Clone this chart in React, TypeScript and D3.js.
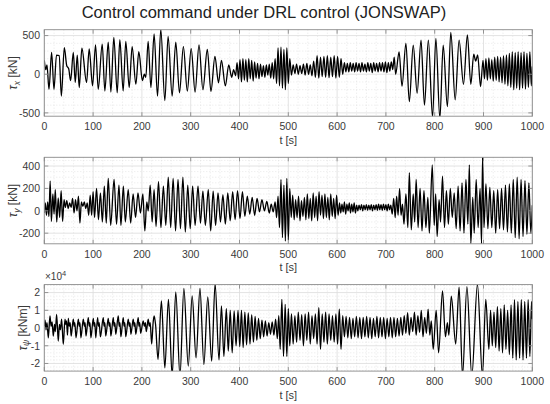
import React from 'react';
import * as d3 from 'd3';

// ---------- data ----------
const timeTicks = [0, 100, 200, 300, 400, 500, 600, 700, 800, 900, 1000];
const tauXTicks = [-500, 0, 500];
const tauYTicks = [-200, 0, 200, 400];
const tauPsiTicks = [-2, -1, 0, 1, 2];

// surge force tau_x [kN] : [t (s), value] at local extrema
const tauX: [number, number][] = [
  [0,180],[3,60],[5.5,120],[9.6,-195],[15,283],[19.8,-195],[25,248],[30.5,240],[35,-283],[41,345],[46,110],[50,70],[54,-84],[59.4,283],[63.5,-106],[67.5,248],[71.6,-172],[77,336],[86.6,-106],[92,327],[98.9,-150],[105,380],[110.5,-195],[118.7,390],[124.1,-217],[131,416],[136.4,-230],[142.5,478],[149.4,-240],[154.8,447],[161.6,-217],[167,425],[174,-172],[180,358],[187.6,-128],[193.7,292],[201,-84],[205,0],[208,-40],[212.8,425],[218.5,-172],[225,522],[232,-283],[238.7,580],[247,-340],[253.7,490],[262,-283],[269.4,416],[277,-240],[285,358],[293,-217],[301,330],[309,-230],[317,380],[325,-200],[334,320],[341.5,-220],[349.7,230],[357,-110],[363,180],[371,-150],[378,120],[384,-40],[388,60],[392,-20],
  [395,150],[398,-60],[401,190],[404,-100],[407,200],[410,-80],[413,190],[416,-100],[419,200],[422,-60],[425,180],[428,-90],[431,160],[434,-50],[437,140],[440,-60],[443,130],[446,-30],[449,110],[452,-40],[455,120],[458,-10],[461,130],[464,-50],[467,150],[470,-60],[473,200],[476,-120],[479,340],[482,-150],[485,350],[488,-180],[491,320],[494,-200],[497,340],[500,-120],[503,200],
  [506.5,-10],[510,120],[513.5,10],[517,130],[520.5,0],[524,110],[527.5,10],[531,130],[534.5,-10],[538,140],[541.5,0],[545,120],[548.5,-20],[552,170],[555.5,-40],[559,240],[562.5,-50],[566,220],[569.5,-30],[573,230],[576.5,-40],[580,240],[583.5,-45],[587,220],[590.5,-30],[594,240],[597.5,-50],[601,230],[604.5,-40],[608,200],[611.5,0],
  [615,150],[618,30],[621,140],[624,30],[627,150],[630,40],[633,140],[636,30],[639,150],[642,40],[645,140],[648,30],[651,150],[654,40],[657,130],[660,30],[663,150],[666,40],[669,140],[672,20],[675,150],[678,40],[681,140],[684,30],[687,150],[690,40],[693,150],[696,30],[699,160],[702,20],[705,150],[708,40],[711,160],[714,60],[717,220],[720,0],
  [727,290],[733,-155],[741,400],[748,-355],[756,375],[764,-245],[772,440],[779,-400],[787,440],[795.6,-555],[802.4,465],[810.6,-575],[817.4,375],[826,-420],[833,540],[842,-330],[850,440],[859,-130],[867,510],[874,-130],[880,260],[884,170],[888,250],[894,-160],[899,180],
  [902,-60],[905,200],[908,-80],[911,210],[914,-60],[917,190],[920,-90],[923,220],[926,-80],[929,230],[932,-100],[935,220],[938,-110],[941,240],[944,-130],[947,250],[950,-150],[953,270],[956,-170],[959,290],[962,-200],[965,280],[968,-180],[971,290],[974,-200],[977,280],[980,-180],[983,290],[986,-190],[989,270],[992,-170],[995,290],[998,-150],[1000,100],
];

// sway force tau_y [kN]
const tauY: [number, number][] = [
  [0,-20],[2,70],[4.5,-40],[7,80],[9.5,-50],[12,265],[14.5,-95],[17.5,150],[20,-30],[22.5,190],[25.5,-100],[28.5,115],[31.5,-60],[34.5,180],[37.5,-95],[40.5,100],[43,30],[46,90],[49,20],[52,70],[55,30],[58,110],[61,-20],[64,100],[67,0],[70,130],[73,-110],[76,80],[79,40],[82,80],[85,20],[88,70],[91,-40],[94,140],[97,-40],[100,170],[103,-60],[107,200],[111,-80],[115,160],[119,-100],[123,220],[127,-110],[131,290],[136,-130],[143,280],[148,-120],[153,230],[157,-130],[162,220],[166,-100],[172,190],[177,-110],[182,150],[187,-60],[192,160],[197,-20],[202,150],[206,-180],[210,80],[213,0],[217,230],[221,-100],[225,190],[229,-140],[234,260],[239,-150],[244,220],[249,-130],[254,300],[259,-150],[264,290],[269,-180],[274,280],[279,-160],[284,300],[289,-190],[294,230],[299,-160],[304,220],[309,-130],[315,220],[320,-110],[325,175],[330,-130],[336,190],[341,-180],[346,175],[351,-130],[356,160],[361,-100],[366,145],[371,-120],[376,160],[381,-90],[386,170],[391,-80],[396,180],[401,-70],[406,170],[411,-50],[416,130],[421,-30],[426,120],[431,-40],[436,110],[441,-10],[446,100],[451,0],[456,85],[461,-20],[465,60],[469,-10],[473,80],[476,-60],[479,130],[482,-150],[485,280],[488,-240],[491,230],[494,-270],[497,290],[500,-260],[503,200],[506,-60],
  [509,140],[512,-80],[515,100],[518,-60],[521,130],[524,-90],[527,90],[530,-50],[533,120],[536,-80],[539,150],[542,-70],[545,110],[548,-90],[551,160],[554,-60],[557,130],[560,-90],[563,170],[566,-40],[569,140],[572,-70],[575,150],[578,-60],[581,120],[584,-80],[587,150],[590,-50],[593,110],[596,-70],[599,140],[602,-40],
  [605,70],[607.5,-20],[610,60],[612.5,-10],[615,80],[617.5,-30],[620,60],[622.5,0],[625,70],[627.5,-20],[630,60],[632.5,-10],[635,70],[637.5,-20],[640,50],[642.5,0],[645,50],[647.5,10],[650,55],[652.5,0],[655,50],[657.5,10],[660,55],[662.5,5],[665,50],[667.5,10],[670,55],[672.5,0],[675,50],[677.5,10],[680,55],[682.5,5],[685,60],[687.5,10],[690,55],[692.5,5],[695,60],[697.5,10],[700,55],[702.5,0],[705,60],[707.5,10],[710,50],
  [713,-30],[716,110],[719,-60],[722,130],[725,-40],[728,200],[731,-40],[734,60],[737,-120],[741,150],[745,-150],[748,340],[752,-170],[756,150],[759,-100],[762,280],[766,-150],[770,200],[774,-180],[778,180],[782,-150],[786,120],[789,-200],[795,410],[799,-130],[802,150],[805,-230],[809,100],[812,-100],[816,310],[820,-150],[824,180],[828,-120],[832,200],[836,-60],[840,160],[844,-160],[848,220],[852,-180],[856,250],[860,-200],[864,280],[868,-120],[871,410],[874,-295],[878,120],[881,-200],[885,280],[889,-150],[893,200],[896,-295],[898,480],[901,-150],
  [905,240],[909,-160],[913,210],[917,-150],[921,180],[925,-200],[929,190],[933,-160],[937,200],[941,-170],[945,230],[949,-190],[953,240],[957,-200],[961,280],[965,-240],[969,300],[973,-250],[977,280],[981,-230],[985,270],[989,-210],[993,250],[997,-200],[1000,50],
];

// yaw moment tau_psi [x10^4 kNm]
const tauPsi: [number, number][] = [
  [0,0.1],[1.5,0.45],[3.5,-0.1],[5.5,0.3],[8.2,-0.55],[11.6,0.68],[14,0.1],[16,0.35],[18.4,-0.45],[21,0.2],[22.5,-0.2],[25.3,0.77],[28.6,-0.74],[31,0.2],[33,-0.1],[35.5,0.5],[38.9,-0.92],[42.4,0.5],[44,0.2],[45.5,0.4],[47.5,-0.4],[49.2,0.55],[51,0.1],[53,0.3],[55,-0.45],[59.4,0.5],[61,0.1],[62.5,0.3],[65,-0.55],[69.7,0.5],[71.5,0.1],[73,0.3],[75,-0.55],[79.9,0.5],[82,0.1],[83.5,0.3],[85.5,-0.45],[90.1,0.58],[92,0.1],[93.5,0.3],[95.5,-0.55],[100.4,0.55],[102,0.1],[103.5,0.3],[105.5,-0.55],[109.2,0.58],[111,0.1],[112.5,0.3],[115,-0.5],[120.8,0.58],[122.5,0.1],[124,0.3],[126,-0.45],[131,0.55],[133,0.1],[134.5,0.3],[136.5,-0.45],[141.3,0.58],[143,0.1],[144.5,0.3],[146.5,-0.35],[151.5,0.68],[153.5,0.1],[155,0.3],[157,-0.5],[161.7,0.58],[163.5,0.1],[165,0.3],[167,-0.5],[172,0.5],[174,0.1],[175.5,0.3],[177.5,-0.35],[182.2,0.5],[184,0.1],[185.5,0.3],[187.5,-0.35],[192.4,0.58],[194,0.1],[195.5,0.3],[197.5,-0.3],[202.6,0.4],[205,0.1],[207,0.3],[209,-0.2],[212.9,0.5],[215,0.1],[217,0.3],[220,-0.9],[223,0.3],[225,0.68],[228,0.2],
  [233,-1.77],[240,1.53],[247,-2.25],[254.4,1.62],[262,-2.7],[269.4,2.04],[278,-2.7],[286,2.23],[295,-2.15],[303,1.81],[311,-1.68],[319,2.23],[327,-2.06],[335,1.75],[343,-1.87],[350,2.5],[358,-1.8],[363,1.25],[368,-1.6],[373,1.1],[377,-1.3],[381,1.0],[385,-1.4],[389,0.96],[393,-1.0],[397,1.0],
  [400.5,-1.05],[404,1.0],[407.5,-1.1],[411,0.9],[414.5,-0.95],[418,0.85],[421.5,-0.9],[425,0.75],[428.5,-0.8],[432,0.65],[435.5,-0.7],[439,0.55],[442.5,-0.6],[446,0.45],[449.5,-0.5],[453,0.4],[456.5,-0.45],[460,0.3],[463.5,-0.35],[467,0.35],[470.5,-0.4],[474,0.5],[477.5,-0.6],[480.5,0.7],[483.4,-1.2],[486.8,1.62],[490.2,-1.6],[493.6,1.34],[497,-1.6],[500,1.1],[503,-1.0],
  [506.5,0.8],[510,-0.9],[513.5,0.7],[517,-0.8],[520.5,0.9],[524,-0.7],[527.5,0.75],[531,-1.0],[534.5,0.8],[538,-0.7],[541.5,0.9],[545,-0.9],[548.5,0.7],[552,-0.6],[555.5,0.8],[559,-0.9],[562.5,1.15],[566,-1.2],[569.5,0.8],[573,-0.8],[576.5,0.9],[580,-0.9],[583.5,0.8],[587,-0.7],[590.5,0.7],[594,-0.8],[597.5,0.8],[601,-0.9],[604.5,1.06],[608,-1.2],[611.5,0.7],
  [615,-0.5],[618.5,0.65],[622,-0.55],[625.5,0.6],[629,-0.6],[632.5,0.55],[636,-0.5],[639.5,0.65],[643,-0.55],[646.5,0.6],[650,-0.6],[653.5,0.6],[657,-0.5],[660.5,0.65],[664,-0.55],[667.5,0.6],[671,-0.6],[674.5,0.55],[678,-0.5],[681.5,0.65],[685,-0.55],[688.5,0.6],[692,-0.5],[695.5,0.6],[699,-0.6],[702.5,0.55],[706,-0.5],[709.5,0.6],[713,-0.55],[716.5,0.6],[720,-0.5],[723.5,0.55],[727,-0.45],[730.5,0.6],[734,-0.4],[737.5,0.7],[741,-0.3],[744.5,0.87],[748,-0.4],[751.5,0.6],[755,-0.2],[758.5,0.9],[762,-0.4],[765.5,0.7],[769,-0.25],[772.5,1.0],[776,-0.5],[779.5,0.6],[783,-0.3],[786.5,1.06],[790,-0.4],[793,0.4],
  [797,-1.2],[803,1.0],[808,-1.4],[816,2.1],[822,-0.5],[826,0.3],[829,-0.4],[834,1.8],[843,-0.9],[850,2.3],[857,-2.7],[866,2.34],[876,-2.7],[887.6,2.47],[897.8,-2.7],[904.7,1.62],
  [911,-1.2],[914.5,1.0],[918,-1.0],[921.5,0.9],[925,-1.1],[928.5,1.2],[932,-1.3],[935.5,1.1],[939,-1.4],[942.5,1.3],[946,-1.2],[949.5,1.0],[953,-1.5],[956.5,1.3],[960,-1.7],[963.5,1.6],[967,-1.8],[970.5,1.5],[974,-1.7],[977.5,1.6],[981,-1.8],[984.5,1.5],[988,-1.7],[991.5,1.6],[995,-1.6],[998.5,1.5],[1000,0.5],
];

// ---------- layout ----------
const FONT = "'Liberation Sans', Arial, Helvetica, sans-serif";
const X0 = 44.3, X1 = 532.3;
const PH = 86.5;

type Panel = {
  data: [number, number][];
  top: number;
  domain: [number, number];
  ticks: number[];
  minor: number;
  sym: string;
  unit: string;
  labelX: number;
  exponent?: boolean;
};

const panels: Panel[] = [
  { data: tauX, top: 29.7, domain: [-543, 576], ticks: tauXTicks, minor: 100, sym: 'x', unit: ' [kN]', labelX: 13 },
  { data: tauY, top: 157.3, domain: [-295, 478], ticks: tauYTicks, minor: 50, sym: 'y', unit: ' [kN]', labelX: 13 },
  { data: tauPsi, top: 284.6, domain: [-2.43, 2.45], ticks: tauPsiTicks, minor: 0.2, sym: 'ψ', unit: ' [kNm]', labelX: 22.5, exponent: true },
];

const TEXT = '#3a3a3a';
const FRAME = '#8a8a8a';

function PanelView({ p, idx }: { p: Panel; idx: number }) {
  const x = d3.scaleLinear().domain([0, 1000]).range([X0, X1]);
  const bottom = p.top + PH;
  const y = d3.scaleLinear().domain(p.domain).range([bottom, p.top]);
  const line = d3
    .line<[number, number]>()
    .x((d) => x(d[0]))
    .y((d) => y(d[1]))
    .curve(d3.curveMonotoneX);
  const xMinor = d3.range(0, 1000.01, 20).filter((v) => v % 100 !== 0);
  const yMinor = d3
    .range(Math.ceil(p.domain[0] / p.minor) * p.minor, p.domain[1], p.minor)
    .filter((v) => !p.ticks.some((t) => Math.abs(t - v) < 1e-6));
  const clipId = `clip${idx}`;
  const tl = 4;
  return (
    <g>
      <defs>
        <clipPath id={clipId}>
          <rect x={X0} y={p.top} width={X1 - X0} height={PH} />
        </clipPath>
      </defs>
      <rect x={X0} y={p.top} width={X1 - X0} height={PH} fill="#fff" />
      {xMinor.map((v) => (
        <line key={'xm' + v} x1={x(v)} x2={x(v)} y1={p.top} y2={bottom} stroke="#d6d6d6" strokeWidth={0.6} strokeDasharray="1,2" />
      ))}
      {yMinor.map((v) => (
        <line key={'ym' + v} x1={X0} x2={X1} y1={y(v)} y2={y(v)} stroke="#d6d6d6" strokeWidth={0.6} strokeDasharray="1,2" />
      ))}
      {timeTicks.map((v) => (
        <line key={'xg' + v} x1={x(v)} x2={x(v)} y1={p.top} y2={bottom} stroke="#dcdcdc" strokeWidth={0.8} />
      ))}
      {p.ticks.map((v) => (
        <line key={'yg' + v} x1={X0} x2={X1} y1={y(v)} y2={y(v)} stroke="#dcdcdc" strokeWidth={0.8} />
      ))}
      <path d={line(p.data) || ''} fill="none" stroke="#000" strokeWidth={1.3} strokeLinejoin="round" clipPath={`url(#${clipId})`} />
      <rect x={X0} y={p.top} width={X1 - X0} height={PH} fill="none" stroke={FRAME} strokeWidth={0.9} />
      {timeTicks.map((v) => (
        <g key={'xt' + v}>
          <line x1={x(v)} x2={x(v)} y1={bottom} y2={bottom - tl} stroke={FRAME} strokeWidth={0.9} />
          <line x1={x(v)} x2={x(v)} y1={p.top} y2={p.top + tl} stroke={FRAME} strokeWidth={0.9} />
          <text x={x(v)} y={bottom + 13.8} textAnchor="middle" fontSize={10.5} fill={TEXT} fontFamily={FONT}>
            {v}
          </text>
        </g>
      ))}
      {p.ticks.map((v) => (
        <g key={'yt' + v}>
          <line x1={X0} x2={X0 + tl} y1={y(v)} y2={y(v)} stroke={FRAME} strokeWidth={0.9} />
          <line x1={X1} x2={X1 - tl} y1={y(v)} y2={y(v)} stroke={FRAME} strokeWidth={0.9} />
          <text x={40} y={y(v) + 3.8} textAnchor="end" fontSize={10.5} fill={TEXT} fontFamily={FONT}>
            {v}
          </text>
        </g>
      ))}
      <text x={(X0 + X1) / 2} y={bottom + 27.5} textAnchor="middle" fontSize={11} fill={TEXT} fontFamily={FONT}>
        t [s]
      </text>
      <text
        transform={`translate(${p.labelX},${p.top + PH / 2}) rotate(-90)`}
        textAnchor="middle"
        fontSize={12}
        fill={TEXT}
        fontFamily={FONT}
        dy={4}
      >
        <tspan fontStyle="italic">τ</tspan>
        <tspan fontStyle="italic" fontSize={8.5} dy={2.5}>
          {p.sym}
        </tspan>
        <tspan dy={-2.5}>{p.unit}</tspan>
      </text>
      {p.exponent && (
        <text x={45} y={p.top - 4.5} fontSize={10} fill={TEXT} fontFamily={FONT}>
          ×10
          <tspan fontSize={7.5} dy={-4}>
            4
          </tspan>
        </text>
      )}
    </g>
  );
}

export default function App() {
  return (
    <svg
      width={550}
      height={404}
      viewBox="0 0 550 404"
      style={{ position: 'absolute', left: 0, top: 0, background: '#fff' }}
    >
      <rect width={550} height={404} fill="#fff" />
      <text x={264} y={18} textAnchor="middle" fontSize={16.5} fill="#222" fontFamily={FONT}>
        Control command under DRL control (JONSWAP)
      </text>
      {panels.map((p, i) => (
        <PanelView key={i} p={p} idx={i} />
      ))}
    </svg>
  );
}
